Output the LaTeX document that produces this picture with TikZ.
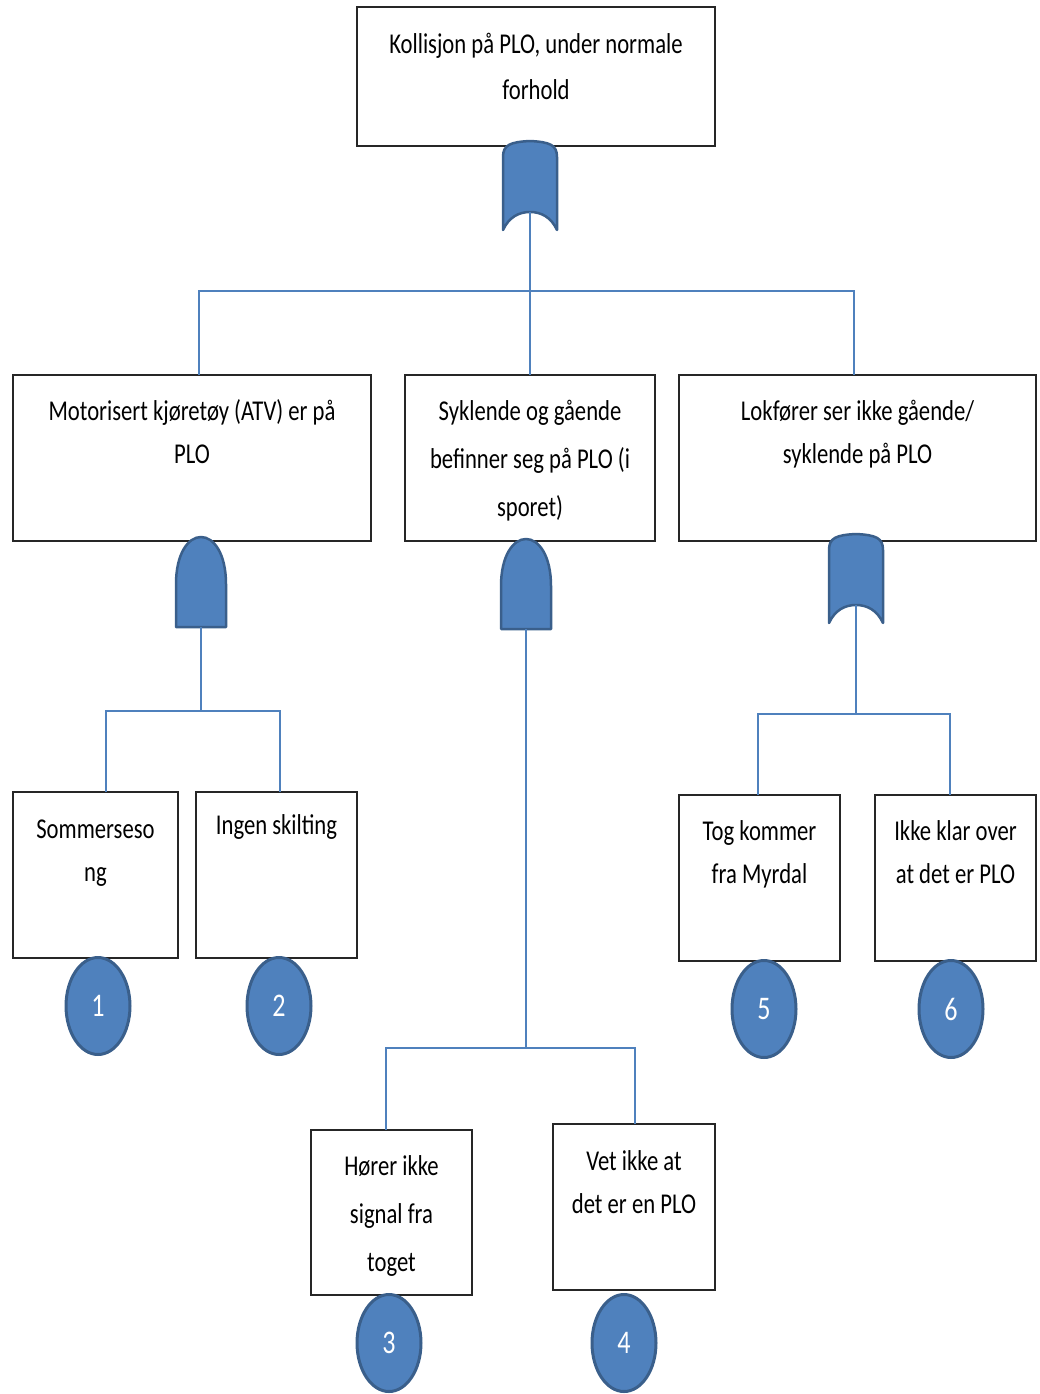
\documentclass[tikz,border=0pt]{standalone}
\usepackage{fontspec}
\setmainfont{Carlito}[FakeStretch=0.79]
\usetikzlibrary{shapes.geometric,calc}
\definecolor{gatefill}{HTML}{4F81BD}
\definecolor{gateline}{HTML}{3A5F8B}
\definecolor{wirecol}{HTML}{4F81BD}

\tikzset{
  box/.style 2 args={draw=black!85, line width=2pt, fill=white,
    minimum width=#1, minimum height=#2, inner sep=0pt, outer sep=0pt},
  % anchor=base sits on the last line of a multi-line label
  lbl/.style={anchor=base, align=center, inner sep=0pt, text=black},
  sz/.style={font=\fontsize{28.7}{#1}\selectfont},
  wire/.style={draw=wirecol, line width=1.6pt},
  gate/.style={fill=gatefill, draw=gateline, line width=2.5pt, line join=round},
  basic/.style={ellipse, fill=gatefill, draw=gateline, line width=3pt,
    minimum width=64pt, minimum height=97pt, inner sep=0pt,
    text=white, font=\fontsize{33}{38}\selectfont},
  pics/andgate/.style={code={
    \draw[gate] (-25,45) -- (-25,2)
      .. controls (-25,-28) and (-13,-45) .. (0,-45)
      .. controls (13,-45) and (25,-28) .. (25,2) -- (25,45) -- cycle;
    \coordinate (-in) at (0,-45);
    \coordinate (-out) at (0,45);
  }},
  pics/orgate/.style={code={
    \draw[gate] (-27,43) -- (-27,-30)
      .. controls (-27,-42) and (-20,-45) .. (0,-46)
      .. controls (20,-45) and (27,-42) .. (27,-30) -- (27,43)
      .. controls (21,30) and (11,25) .. (0,25)
      .. controls (-11,25) and (-21,30) .. (-27,43) -- cycle;
    \coordinate (-in) at (0,-46);
    \coordinate (-out) at (0,25);
  }},
}

\begin{document}
\begin{tikzpicture}[x=1pt, y=-1pt]
\useasboundingbox (0,0) rectangle (1039,1394);

% junction points of the branch lines
\coordinate (bus0) at (530,291);
\coordinate (busA) at (201,711);
\coordinate (busB) at (526,1048);
\coordinate (busC) at (856,714);

% event boxes
\node[box={358pt}{139pt}] (T) at (536,76.5) {};
\node[box={358pt}{166pt}] (A) at (192,458) {};
\node[box={250pt}{166pt}] (B) at (530,458) {};
\node[box={357pt}{166pt}] (C) at (857.5,458) {};
\node[box={165pt}{166pt}] (S1) at (95.5,875) {};
\node[box={161pt}{166pt}] (S2) at (276.5,875) {};
\node[box={161pt}{166pt}] (S5) at (759.5,878) {};
\node[box={161pt}{166pt}] (S6) at (955.5,878) {};
\node[box={161pt}{165pt}] (S3) at (391.5,1212.5) {};
\node[box={162pt}{166pt}] (S4) at (634,1207) {};

% gates
\pic (g0) at (530,187) {orgate};
\pic (gA) at (201,582) {andgate};
\pic (gB) at (526,584) {andgate};
\pic (gC) at (856,580) {orgate};

% connectors
\draw[wire] (g0-out) -- (B.north);
\draw[wire] ([xshift=7]A.north) |- (bus0) -| ([xshift=-3.5]C.north);
\draw[wire] (gA-out) -- (busA);
\draw[wire] ([xshift=10.5]S1.north) |- (busA) -| ([xshift=3.5]S2.north);
\draw[wire] (gB-out) -- (busB);
\draw[wire] ([xshift=-5.5]S3.north) |- (busB) -| ([xshift=1]S4.north);
\draw[wire] (gC-out) -- (busC);
\draw[wire] ([xshift=-1.5]S5.north) |- (busC) -| ([xshift=-5.5]S6.north);

% box texts (positioned by the baseline of their last line)
\node[lbl, sz=47] (T-t) at ($(T.north)+(0,93)$) {Kollisjon på PLO, under normale\\forhold};
\node[lbl, sz=43] (A-t) at ($(A.north)+(0,88)$) {Motorisert kjøretøy (ATV) er på\\PLO};
\node[lbl, sz=48] (B-t) at ($(B.north)+(0,141)$) {Syklende og gående\\befinner seg på PLO (i\\sporet)};
\node[lbl, sz=43] (C-t) at ($(C.north)+(0,88)$) {Lokfører ser ikke gående/\\syklende på PLO};
\node[lbl, sz=43] (S1-t) at ($(S1.north)+(0,89)$) {Sommerseso\\ng};
\node[lbl, sz=43] (S2-t) at ($(S2.north)+(0,42)$) {Ingen skilting};
\node[lbl, sz=43] (S5-t) at ($(S5.north)+(0,88)$) {Tog kommer\\fra Myrdal};
\node[lbl, sz=43] (S6-t) at ($(S6.north)+(0,88)$) {Ikke klar over\\at det er PLO};
\node[lbl, sz=48] (S3-t) at ($(S3.north)+(0,141)$) {Hører ikke\\signal fra\\toget};
\node[lbl, sz=43] (S4-t) at ($(S4.north)+(0,89)$) {Vet ikke at\\det er en PLO};

% basic events
\node[basic] (E1) at (98,1006) {1};
\node[basic] (E2) at (279,1006) {2};
\node[basic] (E5) at (764,1009) {5};
\node[basic] (E6) at (951,1009) {6};
\node[basic] (E3) at (389,1343) {3};
\node[basic] (E4) at (624,1343) {4};
\end{tikzpicture}
\end{document}
